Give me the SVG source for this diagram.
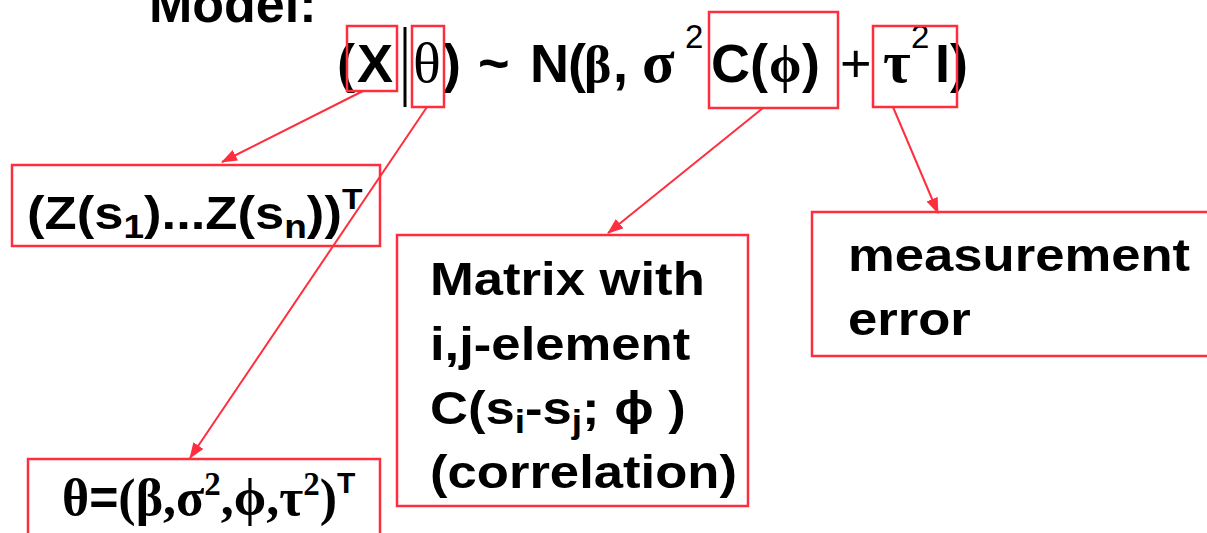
<svg xmlns="http://www.w3.org/2000/svg" width="1207" height="533" viewBox="0 0 1207 533">
<defs>
<style>
.box{fill:none;stroke:#fe2e3e;stroke-width:2.5}
.con{fill:none;stroke:#fe2e3e;stroke-width:2}
.sb{font-family:"Liberation Sans",Arial,sans-serif;font-weight:bold;fill:#000}
.sr{font-family:"Liberation Sans",Arial,sans-serif;fill:#000}
.gr{font-family:"Liberation Serif","Times New Roman",serif;fill:#000}
.gb{font-family:"Liberation Serif","Times New Roman",serif;font-weight:bold;fill:#000}
</style>
<marker id="ah" markerWidth="16" markerHeight="12" refX="15" refY="6" orient="auto" markerUnits="userSpaceOnUse">
<path d="M0,0 L16,6 L0,12 Z" fill="#fe2e3e"/>
</marker>
</defs>
<rect width="1207" height="533" fill="#fff"/>

<g id="title">
<text class="sb" x="149" y="22" font-size="52">Model:</text>
</g>

<g id="formula" font-size="54">
<text class="sb" x="337" y="82">(</text>
<text class="sb" x="357" y="82">X</text>
<line x1="405" y1="27" x2="405" y2="107" stroke="#000" stroke-width="3"/>
<text class="gr" x="413" y="82" font-size="58">θ</text>
<text class="sb" x="443" y="82">)</text>
<text class="sb" x="478" y="82">~</text>
<text class="sb" x="530" y="82">N</text>
<text class="sb" x="568" y="82">(</text>
<text class="gb" x="584" y="82" font-size="52">β</text>
<text class="sb" x="613" y="82">,</text>
<text class="gb" x="642" y="82" font-size="60">σ</text>
<text class="sr" x="685" y="48" font-size="33">2</text>
<text class="sb" x="711" y="82">C</text>
<text class="sb" x="750" y="82">(</text>
<text class="gb" x="769" y="82" font-size="52">ϕ</text>
<text class="sb" x="802" y="82">)</text>
<text class="sr" x="840" y="82">+</text>
<text class="gb" x="883" y="82" font-size="60">τ</text>
<text class="sr" x="911" y="48" font-size="33">2</text>
<text class="sb" x="935" y="82">I</text>
<text class="sb" x="950" y="82">)</text>
</g>

<g id="node-X"><rect class="box" x="347" y="26" width="50" height="65"/></g>
<g id="node-theta"><rect class="box" x="412" y="26" width="32" height="81"/></g>
<g id="node-C"><rect class="box" x="709" y="12" width="129" height="96"/></g>
<g id="node-tau"><rect class="box" x="873" y="26" width="84" height="81"/></g>

<g id="node-Z">
<rect class="box" x="12" y="165" width="368" height="81"/>
<text class="sb" transform="matrix(1.12 0 0 1 27 229)" font-size="47">(Z(s<tspan font-size="33" dy="9">1</tspan><tspan dy="-9">)...Z(s</tspan><tspan font-size="33" dy="9">n</tspan><tspan dy="-9">))</tspan><tspan font-size="30" dy="-20">T</tspan></text>
</g>

<g id="node-params">
<rect class="box" x="28" y="459" width="352" height="90"/>
<text class="gb" x="62" y="515" font-size="52">θ<tspan class="sb" font-size="50">=</tspan>(β,σ<tspan class="gr" font-size="33" dy="-20">2</tspan><tspan dy="20">,ϕ,τ</tspan><tspan class="gr" font-size="33" dy="-20">2</tspan><tspan class="gr" dy="20">)</tspan><tspan class="sb" font-size="30" dy="-22">T</tspan></text>
</g>

<g id="node-matrix">
<rect class="box" x="397" y="235" width="351" height="271"/>
<text class="sb" font-size="47" transform="matrix(1.12 0 0 1 430 295)">Matrix with</text>
<text class="sb" font-size="47" transform="matrix(1.12 0 0 1 430 360)">i,j-element</text>
<text class="sb" font-size="47" transform="matrix(1.12 0 0 1 430 424)">C(s<tspan font-size="33" dy="9">i</tspan><tspan dy="-9">-s</tspan><tspan font-size="33" dy="9">j</tspan><tspan dy="-9">; ϕ )</tspan></text>
<text class="sb" font-size="47" transform="matrix(1.12 0 0 1 430 488)">(correlation)</text>
</g>

<g id="node-meas">
<rect class="box" x="812" y="212" width="420" height="144"/>
<text class="sb" font-size="47" transform="matrix(1.12 0 0 1 848 271)">measurement</text>
<text class="sb" font-size="47" transform="matrix(1.12 0 0 1 848 335)">error</text>
</g>

<g id="connectors">
<line class="con" x1="363" y1="91" x2="222" y2="162" marker-end="url(#ah)"/>
<line class="con" x1="427" y1="107" x2="190" y2="458" marker-end="url(#ah)"/>
<line class="con" x1="763" y1="108" x2="608" y2="233" marker-end="url(#ah)"/>
<line class="con" x1="893" y1="107" x2="938" y2="213" marker-end="url(#ah)"/>
</g>
</svg>
